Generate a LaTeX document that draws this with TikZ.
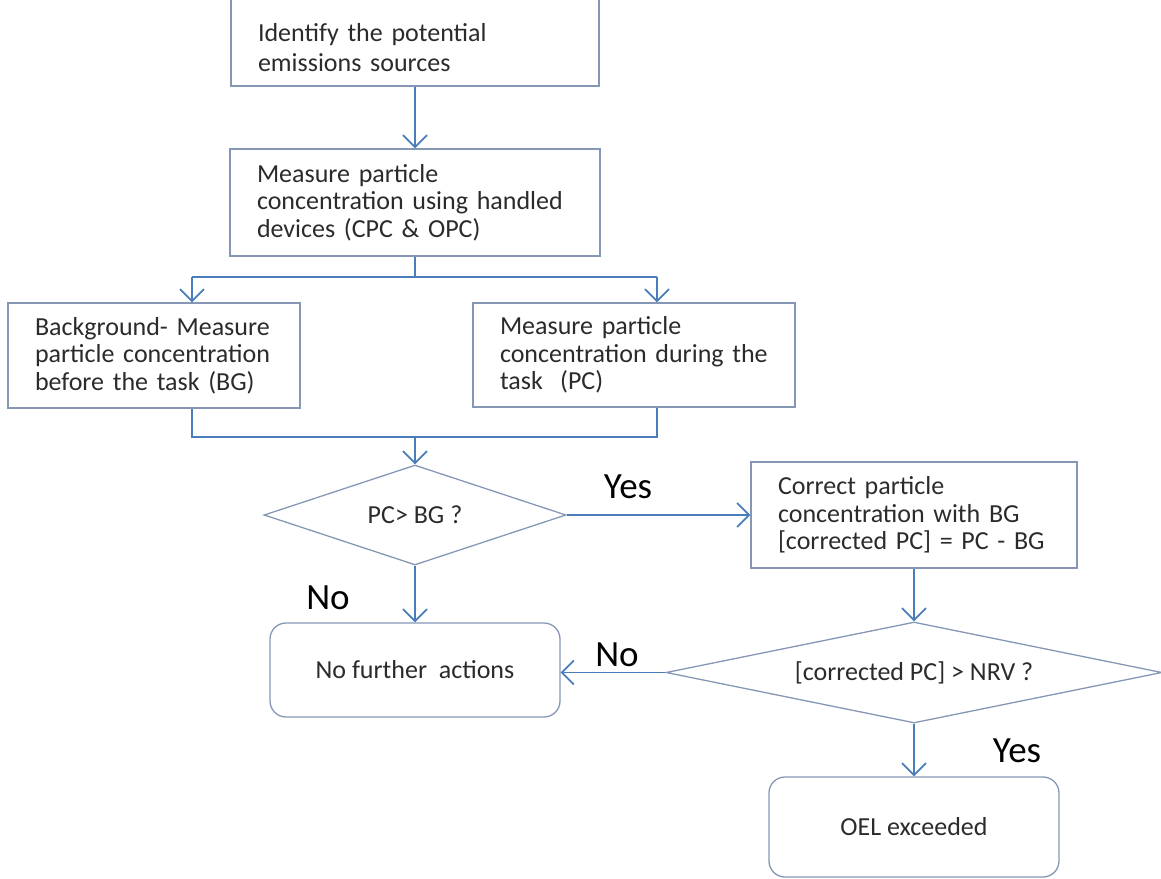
\documentclass[tikz,border=0pt]{standalone}
\usepackage{fontspec}
\setmainfont{Carlito}
\usetikzlibrary{shapes.geometric,arrows.meta,positioning}

\definecolor{flowblue}{HTML}{4A7EBB}
\definecolor{boxline}{HTML}{8597B5}
\definecolor{inktext}{HTML}{2B2B2B}
\newcommand{\boxfont}{\fontsize{26}{27.5}\selectfont}
\newcommand{\answerfont}{\fontsize{37}{40}\selectfont}

\begin{document}
\begin{tikzpicture}[x=1pt, y=-1pt,
    stepbox/.style={rectangle, draw=boxline, line width=1.3pt, align=left, inner xsep=27pt, inner ysep=0pt, text=inktext, font=\boxfont},
    endbox/.style={rectangle, rounded corners=16pt, draw=boxline, line width=1.3pt, align=center, text=inktext, font=\boxfont},
    testbox/.style={diamond, draw=boxline, line width=1.3pt, inner sep=0pt, text=inktext, font=\boxfont},
    flow/.style={draw=flowblue, line width=1.8pt},
    flowarrow/.style={flow, -{Straight Barb[length=12pt,width=24pt]}},
    answer/.style={font=\answerfont, text=black}]
    \useasboundingbox (0,0) rectangle (1161,878);

    \node(identify) [stepbox, text width=314pt, text height=32pt, minimum height=90pt] at (415,41) {Identify the potential\\[2.5pt]emissions sources};
    \node(measure) [stepbox, text width=316pt, minimum height=107pt] at (415,202.5) {Measure particle\\concentration using handled\\devices (CPC \& OPC)};
    \node(background) [stepbox, text width=238pt, minimum height=105pt] at (154,355.5) {Background- Measure\\particle concentration\\before the task (BG)};
    \node(during) [stepbox, text width=268pt, minimum height=104pt] at (634,355) {Measure particle\\concentration during the\\task~ (PC)};
    \node(check) [testbox, aspect=3, minimum width=302pt, minimum height=100pt] at (415,515) {PC> BG ?};
    \node(correct) [stepbox, text width=272pt, minimum height=106pt] at (914,515) {Correct particle\\concentration with BG\\{[corrected PC]} = PC - BG};
    \node(limit) [testbox, aspect=5, minimum width=496pt, minimum height=101pt] at (914,672.5) {{[corrected PC]} > NRV ?};
    \node(none) [endbox, minimum width=290pt, minimum height=94pt] at (415,670) {No further~ actions};
    \node(exceeded) [endbox, minimum width=290pt, minimum height=100pt] at (914,827) {OEL exceeded};

    \node(yesright) [answer] at (628,487) {Yes};
    \node(nobelow) [answer] at (328,598) {No};
    \node(noleft) [answer] at (617,655) {No};
    \node(yesbelow) [answer] at (1017,751) {Yes};

    \coordinate (splitL) at (192,277);
    \coordinate (splitR) at (657,277);
    \coordinate (mergeL) at (192,437);
    \coordinate (mergeR) at (657,437);

    \draw[flowarrow] (identify) -- (measure);
    \draw[flow] (measure.south) -- (measure.south |- splitL);
    \draw[flow] (splitL) -- (splitR);
    \draw[flowarrow] (splitL) -- (splitL |- background.north);
    \draw[flowarrow] (splitR) -- (splitR |- during.north);
    \draw[flow] (splitL |- background.south) -- (mergeL) -- (mergeR) -- (splitR |- during.south);
    \draw[flowarrow] (mergeL -| check.north) -- (check.north);
    \draw[flowarrow] (check.east) -- (correct.west);
    \draw[flowarrow] (check) -- (none);
    \draw[flowarrow] (correct) -- (limit);
    \draw[flowarrow] (limit.west) -- (limit.west -| none.east);
    \draw[flowarrow] (limit) -- (exceeded);
  \end{tikzpicture}
\end{document}
